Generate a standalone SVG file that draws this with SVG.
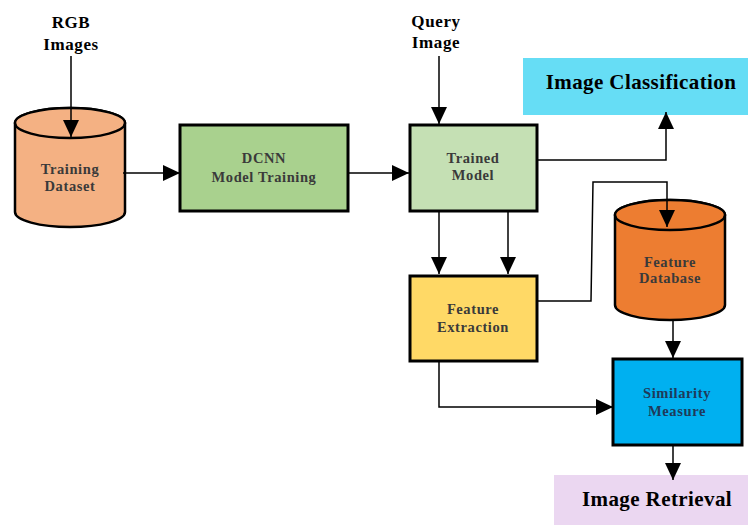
<svg xmlns="http://www.w3.org/2000/svg" width="748" height="525" viewBox="0 0 748 525">
<style>
.box{stroke:#000;stroke-width:3}
.cyl{stroke:#000;stroke-width:2.5}
.lbl{font-family:"Liberation Serif",serif;font-weight:bold;font-size:14.5px;letter-spacing:0.6px;fill:#3a3a3a;text-anchor:middle}
.ttl{font-family:"Liberation Serif",serif;font-weight:bold;font-size:17px;letter-spacing:0.6px;fill:#000;text-anchor:middle}
.big{font-family:"Liberation Serif",serif;font-weight:bold;font-size:21px;letter-spacing:0.4px;fill:#000;text-anchor:middle}
.con{fill:none;stroke:#000;stroke-width:1.5;marker-end:url(#ah)}
</style>
<defs>
<marker id="ah" markerUnits="userSpaceOnUse" markerWidth="18" markerHeight="16" refX="17" refY="8" orient="auto">
<path d="M0,0 L17,8 L0,16 Z" fill="#000"/>
</marker>
</defs>
<g id="rgb-images">
<text class="ttl" x="71" y="28">RGB</text>
<text class="ttl" x="71" y="50">Images</text>
</g>
<g id="query-image">
<text class="ttl" x="436" y="27">Query</text>
<text class="ttl" x="436" y="48">Image</text>
</g>
<g id="training-dataset">
<path class="cyl" d="M15,123 L15,212 A55,15 0 0 0 125,212 L125,123 A55,15 0 0 0 15,123 Z" fill="#F4B183"/>
<ellipse class="cyl" cx="70" cy="123" rx="55" ry="15" fill="#F4B183"/>
<text class="lbl" x="70" y="174">Training</text>
<text class="lbl" x="70" y="191">Dataset</text>
</g>
<g id="dcnn">
<rect class="box" x="180" y="125" width="168" height="86" fill="#A9D18E"/>
<text class="lbl" x="264" y="163">DCNN</text>
<text class="lbl" x="264" y="182">Model Training</text>
</g>
<g id="trained-model">
<rect class="box" x="410" y="125" width="127" height="86" fill="#C5E0B4"/>
<text class="lbl" x="473" y="163">Trained</text>
<text class="lbl" x="473" y="180">Model</text>
</g>
<g id="image-classification">
<rect x="523" y="58" width="225" height="57" fill="#66DDF5"/>
<text class="big" x="641" y="89">Image Classification</text>
</g>
<g id="feature-extraction">
<rect class="box" x="410" y="276" width="127" height="85" fill="#FFD966"/>
<text class="lbl" x="473" y="314">Feature</text>
<text class="lbl" x="473" y="332">Extraction</text>
</g>
<g id="feature-database">
<path class="cyl" d="M615,215 L615,305 A55,15 0 0 0 725,305 L725,215 A55,15 0 0 0 615,215 Z" fill="#ED7D31"/>
<ellipse class="cyl" cx="670" cy="215" rx="55" ry="15" fill="#ED7D31"/>
<text class="lbl" x="670" y="267">Feature</text>
<text class="lbl" x="670" y="283">Database</text>
</g>
<g id="similarity-measure">
<rect class="box" x="613" y="359" width="129" height="86" fill="#00B0F0"/>
<text class="lbl" x="677" y="398" style="fill:#1F3A5A">Similarity</text>
<text class="lbl" x="677" y="416" style="fill:#1F3A5A">Measure</text>
</g>
<g id="image-retrieval">
<rect x="554" y="475" width="194" height="50" fill="#EBD7F1"/>
<text class="big" x="657" y="506">Image Retrieval</text>
</g>
<g id="connectors">
<path class="con" d="M71,56 L71,137"/>
<path class="con" d="M123,173 L180,173"/>
<path class="con" d="M348,173 L409,173"/>
<path class="con" d="M439,56 L439,124"/>
<path class="con" d="M537,160 L666,160 L666,112"/>
<path class="con" d="M439,211 L439,274"/>
<path class="con" d="M508,211 L508,274"/>
<path class="con" d="M537,301 L591,301 L593,182 L667,182 L667,227"/>
<path class="con" d="M439,361 L439,407 L613,407"/>
<path class="con" d="M673,320 L673,358"/>
<path class="con" d="M673,445 L673,480"/>
</g>
</svg>
